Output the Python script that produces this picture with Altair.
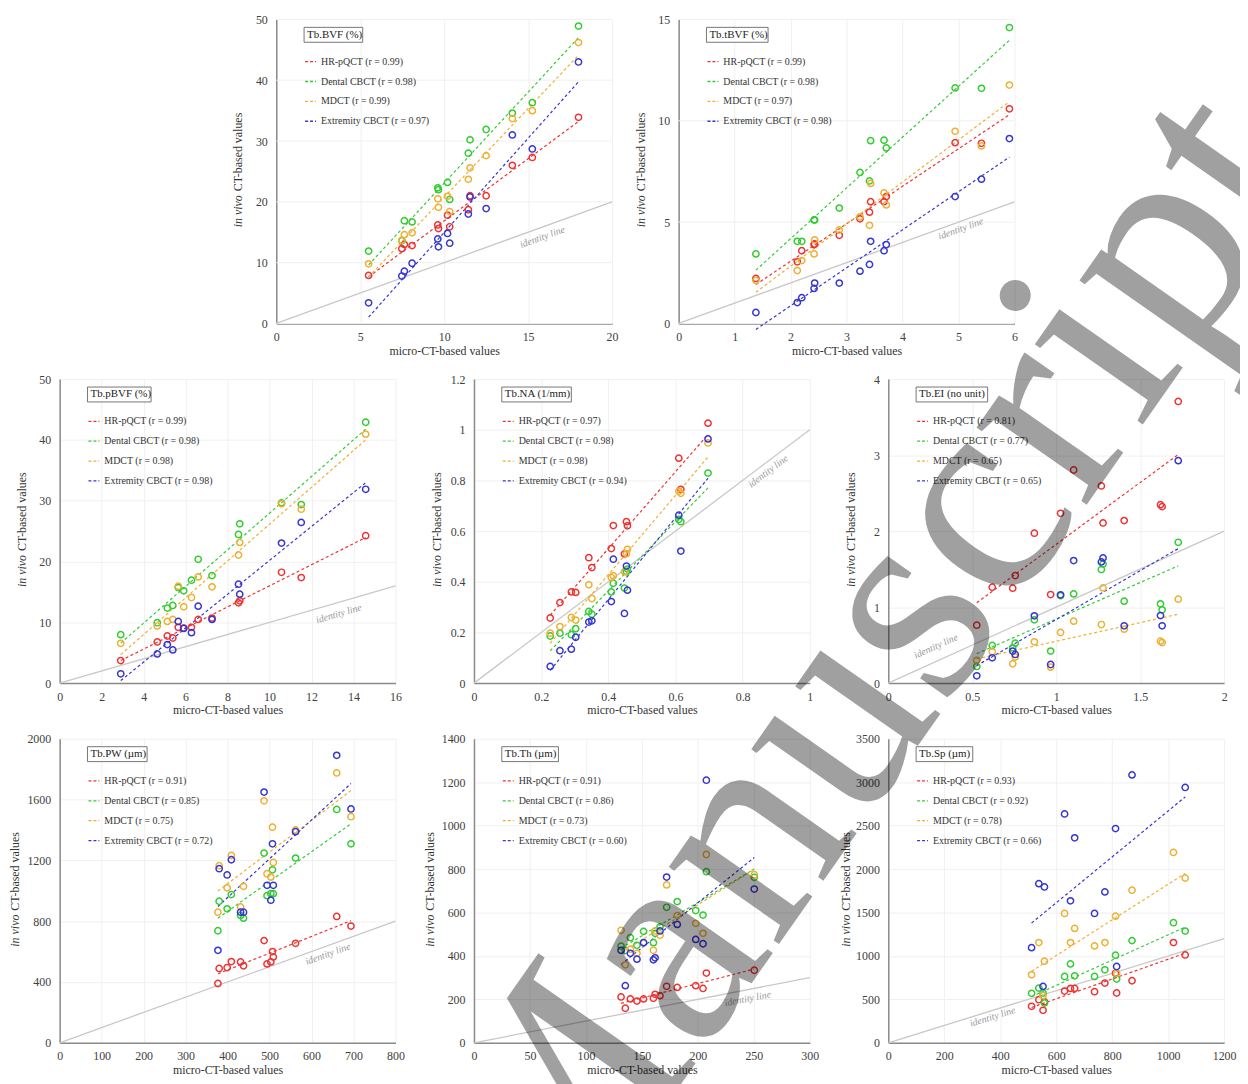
import math
import altair as alt
import pandas as pd

SERIES = ["HR-pQCT", "Dental CBCT", "MDCT", "Extremity CBCT"]
COLORS = ["#ee3333", "#33cc33", "#eeb033", "#3636d2"]
NAN = float("nan")
FONT = "Liberation Serif"

# ---- Tb.BVF (%)
bvf_x = [5.5, 7.48, 7.63, 8.09, 9.62, 9.66, 10.2, 10.33, 11.44, 11.54, 12.5, 14.06, 15.25, 18.0]
bvf_hr = [7.9, 12.3, 13.0, 12.8, 16.2, 15.6, 17.8, 15.9, 18.7, 21.0, 21.0, 26.0, 27.3, 33.9]
bvf_dent = [11.9, 13.6, 16.9, 16.7, 22.3, 22.0, 23.2, 20.4, 28.0, 30.2, 31.9, 34.6, 36.3, 48.9]
bvf_md = [9.8, 13.7, 14.6, 14.9, 20.5, 19.1, 20.9, 18.4, 23.7, 25.6, 27.6, 33.7, 35.0, 46.2]
bvf_ext = [3.4, 7.8, 8.6, 9.9, 13.9, 12.6, 14.8, 13.2, 18.0, 20.8, 18.9, 31.0, 28.7, 43.0]
bvf_r = [0.99, 0.98, 0.99, 0.97]

# ---- Tb.tBVF (%)
tbvf_x = [1.38, 2.12, 2.20, 2.42, 2.43, 2.87, 3.24, 3.41, 3.43, 3.67, 3.71, 4.94, 5.41, 5.91]
tbvf_hr = [2.22, 3.04, 3.59, 3.89, 3.92, 4.35, 5.16, 5.49, 6.01, 6.01, 6.26, 8.92, 8.89, 10.59]
tbvf_dent = [3.43, 4.05, 4.05, 5.11, 5.11, 5.69, 7.45, 7.03, 9.02, 9.04, 8.66, 11.62, 11.6, 14.6]
tbvf_md = [2.12, 2.61, 3.10, 3.43, 4.12, 4.61, 5.26, 4.84, 6.91, 6.44, 5.85, 9.48, 8.76, 11.76]
tbvf_ext = [0.54, 1.03, 1.27, 1.73, 1.99, 1.99, 2.58, 2.91, 4.05, 3.59, 3.89, 6.26, 7.12, 9.12]
tbvf_r = [0.99, 0.98, 0.97, 0.98]

# ---- Tb.pBVF (%)
pbvf_x = [2.91, 4.65, 5.13, 5.39, 5.65, 5.91, 6.28, 6.6, 7.26, 8.52, 8.58, 10.57, 11.51, 14.58]
pbvf_hr = [3.71, 6.77, 7.75, 7.42, 9.17, 9.06, 9.17, 10.48, 10.7, 13.21, 13.54, 18.23, 17.36, 24.24]
pbvf_dent = [7.97, 9.93, 12.34, 12.77, 15.72, 15.17, 16.92, 20.36, 17.69, 24.45, 26.2, 29.64, 29.37, 42.9]
pbvf_md = [6.55, 9.39, 10.15, 10.48, 15.94, 12.55, 14.08, 17.47, 15.83, 21.07, 23.14, 29.48, 28.6, 40.94]
pbvf_ext = [1.53, 4.8, 6.33, 5.46, 10.15, 9.0, 8.3, 12.66, 10.48, 16.27, 14.63, 23.03, 26.42, 31.88]
pbvf_r = [0.99, 0.98, 0.98, 0.98]

# ---- Tb.NA (1/mm)
na_x = [0.227, 0.256, 0.290, 0.303, 0.342, 0.351, 0.409, 0.415, 0.448, 0.454, 0.457, 0.610, 0.616, 0.697]
na_hr = [0.257, 0.318, 0.360, 0.358, 0.495, 0.456, 0.531, 0.622, 0.51, 0.637, 0.621, 0.888, 0.765, 1.026]
na_dent = [0.186, 0.197, 0.191, 0.215, 0.283, 0.272, 0.360, 0.394, 0.375, 0.44, 0.45, 0.646, 0.637, 0.829]
na_md = [0.197, 0.223, 0.259, 0.249, 0.388, 0.334, 0.417, 0.424, 0.44, 0.511, 0.528, 0.757, 0.749, 0.948]
na_ext = [0.066, 0.128, 0.134, 0.181, 0.241, 0.246, 0.322, 0.489, 0.275, 0.462, 0.367, 0.663, 0.521, 0.964]
na_r = [0.97, 0.98, 0.98, 0.94]

# ---- Tb.EI (no unit)
ei_x = [0.527, 0.619, 0.741, 0.756, 0.870, 0.967, 1.026, 1.104, 1.269, 1.279, 1.405, 1.621, 1.631, 1.727]
ei_hr = [0.762, 1.262, 1.249, 1.415, 1.972, 1.165, 2.234, 2.804, 2.594, 2.107, 2.138, 2.348, 2.322, 3.706]
ei_dent = [0.219, 0.495, 0.464, 0.526, 0.832, 0.421, 1.15, 1.174, 1.494, 1.568, 1.078, 1.043, 0.964, 1.853]
ei_md = [0.30, 0.412, 0.254, 0.342, 0.543, 0.21, 0.666, 0.815, 0.771, 1.253, 0.71, 0.552, 0.534, 1.104]
ei_ext = [0.096, 0.333, 0.421, 0.377, 0.885, 0.245, 1.161, 1.612, 1.595, 1.647, 0.754, 0.889, 0.754, 2.927]
ei_r = [0.81, 0.77, 0.65, 0.65]

# ---- Tb.PW (µm)
pw_x = [377, 380, 399, 409, 431, 438, 487, 494, 503, 507, 509, 562, 660, 694]
pw_hr = [390, 489, 495, 534, 532, 506, 672, 519, 532, 600, 565, 654, 831, 768]
pw_dent = [737, 931, 881, 975, 838, 820, 1248, 968, 981, 1138, 981, 1215, 1535, 1309]
pw_md = [859, 1165, 1019, 1232, 894, 1029, 1592, 1112, 1090, 1418, 1186, 1400, 1775, 1487]
pw_ext = [608, 1145, 1104, 1204, 859, 859, 1649, 1036, 938, 1309, 1036, 1389, 1891, 1538]
pw_r = [0.91, 0.85, 0.75, 0.72]

# ---- Tb.Th (µm)
th_x = [131.4, 135.2, 139.7, 145.6, 151.5, 160.3, 161.8, 166.2, 172.1, 181.6, 198.1, 204.6, 207.6, 250.4]
th_hr = [211, 159, 202, 192, 202, 205, 223, 217, 260, 255, 263, 250, 321, 334]
th_dent = [445, 425, 484, 449, 513, 461, 504, 534, 624, 650, 609, 588, 788, 762]
th_md = [518, 359, 431, 412, 461, 426, 515, 495, 727, 586, 550, 504, 867, 774]
th_ext = [426, 263, 412, 385, 461, 382, 391, 515, 763, 545, 476, 456, 1209, 708]
th_r = [0.91, 0.86, 0.73, 0.60]

# ---- Tb.Sp (µm)
sp_x = [512, 538, 553, 558, 630, 651, 666, 737, 774, 812, 816, 871, 1019, 1061]
sp_hr = [420, 496, 374, 473, 595, 626, 626, 588, 687, 801, 573, 714, 1153, 1011]
sp_dent = [569, 630, 573, 458, 763, 908, 771, 763, 840, 1008, 733, 1176, 1382, 1286]
sp_md = [782, 1153, 542, 939, 1489, 1153, 1317, 1115, 1153, 1458, 801, 1756, 2191, 1897]
sp_ext = [1095, 1832, 649, 1794, 2634, 1634, 2359, 1489, 1737, 2466, 878, 3084, NAN, 2939]
sp_r = [0.93, 0.92, 0.78, 0.66]

PANELS = {
    "bvf": dict(name="Tb.BVF (%)", x=bvf_x, ys=[bvf_hr, bvf_dent, bvf_md, bvf_ext], r=bvf_r,
                xmax=20, ymax=50, xt=[0, 5, 10, 15, 20], yt=[0, 10, 20, 30, 40, 50],
                il=(15.85, 14.2), bw=59, ytx=-38),
    "tbvf": dict(name="Tb.tBVF (%)", x=tbvf_x, ys=[tbvf_hr, tbvf_dent, tbvf_md, tbvf_ext], r=tbvf_r,
                 xmax=6, ymax=15, xt=[0, 1, 2, 3, 4, 5, 6], yt=[0, 5, 10, 15],
                 il=(5.04, 4.67), bw=62, ytx=-38),
    "pbvf": dict(name="Tb.pBVF (%)", x=pbvf_x, ys=[pbvf_hr, pbvf_dent, pbvf_md, pbvf_ext], r=pbvf_r,
                 xmax=16, ymax=50, xt=[0, 2, 4, 6, 8, 10, 12, 14, 16], yt=[0, 10, 20, 30, 40, 50],
                 il=(13.3, 11.4), bw=64, ytx=-38),
    "na": dict(name="Tb.NA (1/mm)", x=na_x, ys=[na_hr, na_dent, na_md, na_ext], r=na_r,
               xmax=1, ymax=1.2, xt=[0, 0.2, 0.4, 0.6, 0.8, 1], yt=[0, 0.2, 0.4, 0.6, 0.8, 1, 1.2],
               il=(0.876, 0.836), bw=70, ytx=-37),
    "ei": dict(name="Tb.EI (no unit)", x=ei_x, ys=[ei_hr, ei_dent, ei_md, ei_ext], r=ei_r,
               xmax=2, ymax=4, xt=[0, 0.5, 1, 1.5, 2], yt=[0, 1, 2, 3, 4],
               il=(0.284, 0.484), bw=72, ytx=-38),
    "pw": dict(name="Tb.PW (µm)", x=pw_x, ys=[pw_hr, pw_dent, pw_md, pw_ext], r=pw_r,
               xmax=800, ymax=2000, xt=[0, 100, 200, 300, 400, 500, 600, 700, 800],
               yt=[0, 400, 800, 1200, 1600, 2000], il=(639, 584), bw=60, ytx=-45),
    "th": dict(name="Tb.Th (µm)", x=th_x, ys=[th_hr, th_dent, th_md, th_ext], r=th_r,
               xmax=300, ymax=1400, xt=[0, 50, 100, 150, 200, 250, 300],
               yt=[0, 200, 400, 600, 800, 1000, 1200, 1400], il=(244.6, 202.7), bw=57, ytx=-44),
    "sp": dict(name="Tb.Sp (µm)", x=sp_x, ys=[sp_hr, sp_dent, sp_md, sp_ext], r=sp_r,
               xmax=1200, ymax=3500, xt=[0, 200, 400, 600, 800, 1000, 1200],
               yt=[0, 500, 1000, 1500, 2000, 2500, 3000, 3500], il=(372.7, 297.5), bw=57, ytx=-43),
}

W, H = 338, 306
COLSTEP, ROWSTEP = 417, 362
GRID = "#f0f0f0"

# watermark geometry (relative to the last panel)
WM_F = 295
WM_ANG = 55
WM_X, WM_Y = -27, -67


def panel(p, ox=0, watermark=False):
    labels = [f"{s} (r = {r:.2f})" for s, r in zip(SERIES, p["r"])]
    rows = []
    for lab, ys in zip(labels, p["ys"]):
        for xv, yv in zip(p["x"], ys):
            if not math.isnan(yv):
                rows.append({"x": xv, "y": yv, "series": lab})
    df = pd.DataFrame(rows)
    xsc = alt.Scale(domain=[0, p["xmax"]], nice=False, range=[ox, ox + W])
    ysc = alt.Scale(domain=[0, p["ymax"]], nice=False)
    lab_expr = "toString(datum.value)"
    xenc = alt.X("x:Q", scale=xsc,
                 axis=alt.Axis(values=p["xt"], labelExpr=lab_expr, title="micro-CT-based values"))
    yaxis_kw = dict(values=p["yt"], labelExpr=lab_expr, title=None)
    if ox:
        yaxis_kw.update(offset=-ox, grid=False)
    yenc = alt.Y("y:Q", scale=ysc, axis=alt.Axis(**yaxis_kw))
    cscale = alt.Scale(domain=labels, range=COLORS)
    leg = alt.Legend(orient="none", legendX=ox + 28, legendY=36, title=None, symbolType="stroke",
                     symbolSize=121, symbolStrokeWidth=1.3, symbolDash=[3, 2],
                     labelFont=FONT, labelFontSize=10, labelColor="#333333",
                     rowPadding=8, padding=0, labelOffset=4)
    cenc = alt.Color("series:N", scale=cscale, legend=leg)
    layers = []
    if ox:
        layers.append(alt.Chart(pd.DataFrame({"y": p["yt"]})).mark_rule(color=GRID, strokeWidth=1).encode(
            y=yenc, x=alt.value(ox), x2=alt.value(ox + W)))
    ident = alt.Chart(pd.DataFrame({"x": [0, p["xmax"]], "y": [0, p["xmax"]]})).mark_line(
        color="#c8c8c8", strokeWidth=1.3).encode(x=xenc, y=yenc)
    ang = math.degrees(math.atan((H / p["ymax"]) / (W / p["xmax"])))
    ident_txt = alt.Chart(pd.DataFrame({"x": [p["il"][0]], "y": [p["il"][1]], "t": ["identity line"]})).mark_text(
        angle=360 - ang, fontStyle="italic", fontSize=10, color="#9a9a9a", font=FONT
    ).encode(x=xenc, y=yenc, text="t:N")
    reg = alt.Chart(df).transform_regression("x", "y", groupby=["series"]).mark_line(
        strokeDash=[3, 2.5], strokeWidth=1.2).encode(x=xenc, y=yenc, color=cenc)
    pts = alt.Chart(df).mark_point(filled=False, size=40, strokeWidth=1.5, opacity=1).encode(
        x=xenc, y=yenc, color=cenc)
    one = pd.DataFrame({"t": [p["name"]]})
    box = alt.Chart(one).mark_rect(fill="white", stroke="#555555", strokeWidth=0.8).encode(
        x=alt.value(ox + 28), x2=alt.value(ox + 28 + p["bw"]), y=alt.value(8), y2=alt.value(23))
    boxt = alt.Chart(one).mark_text(align="left", baseline="middle", fontSize=11, color="#222222",
                                    font=FONT).encode(x=alt.value(ox + 31), y=alt.value(15.5), text="t:N")
    yt1 = alt.Chart(one).mark_text(angle=270, align="right", baseline="middle", fontStyle="italic",
                                   fontSize=12, color="#333333", font=FONT).encode(
        x=alt.value(ox + p["ytx"]), y=alt.value(177), text=alt.value("in vivo"))
    yt2 = alt.Chart(one).mark_text(angle=270, align="left", baseline="middle",
                                   fontSize=12, color="#333333", font=FONT).encode(
        x=alt.value(ox + p["ytx"]), y=alt.value(173), text=alt.value("CT-based values"))
    layers += [ident, ident_txt, reg, pts, box, boxt, yt1, yt2]
    if watermark:
        wm = alt.Chart(pd.DataFrame({"t": ["Manuscript"]})).mark_text(
            angle=360 - WM_ANG, align="center", baseline="middle", fontSize=WM_F, font=FONT,
            color="black", opacity=0.37).encode(x=alt.value(WM_X), y=alt.value(WM_Y), text="t:N")
        layers.append(wm)
    return alt.layer(*layers).properties(width=W, height=H)


spacer = alt.Chart(pd.DataFrame({"a": [0]})).mark_point(opacity=0).encode(
    x=alt.value(0), y=alt.value(0)).properties(width=W, height=H)

cells = [
    panel(PANELS["bvf"], ox=218), panel(PANELS["tbvf"], ox=206), spacer,
    panel(PANELS["pbvf"]), panel(PANELS["na"]), panel(PANELS["ei"]),
    panel(PANELS["pw"]), panel(PANELS["th"]), panel(PANELS["sp"], watermark=True),
]

# padding so the oversized watermark does not push the layout
tw = 4.553 * WM_F
ca, sa = math.cos(math.radians(WM_ANG)), math.sin(math.radians(WM_ANG))
wb = tw * ca + WM_F * sa
hb = tw * sa + WM_F * ca
cx = 2 * COLSTEP + WM_X
cy = 2 * ROWSTEP + WM_Y
top = math.ceil(max(hb / 2 - cy, 6))
pad_top = 8 - top
pad_left = 1
x2 = max(math.ceil(cx + wb / 2), 1184)
pad_right = 1240 - 52 - x2
y2 = max(math.ceil(cy + hb / 2), 1068)
pad_bottom = 1076 - 8 - y2

chart = alt.concat(*cells, columns=3, spacing={"row": ROWSTEP - H, "column": COLSTEP - W},
                   bounds="flush").resolve_scale(
    color="independent"
).properties(
    padding={"left": pad_left, "top": pad_top, "right": pad_right, "bottom": pad_bottom},
    background="white",
).configure_view(stroke=None).configure_axis(
    domainColor="#8a8a8a", domainWidth=1.5, ticks=False, grid=True, gridColor=GRID,
    labelFont=FONT, labelFontSize=12, labelColor="#404040", labelFlush=False,
    titleFont=FONT, titleFontSize=12, titleColor="#333333", titleFontWeight="normal",
).configure_axisX(labelPadding=8, titlePadding=3).configure_axisY(labelPadding=9)

chart.save("out.html", embed_options={"renderer": "svg", "actions": False})
